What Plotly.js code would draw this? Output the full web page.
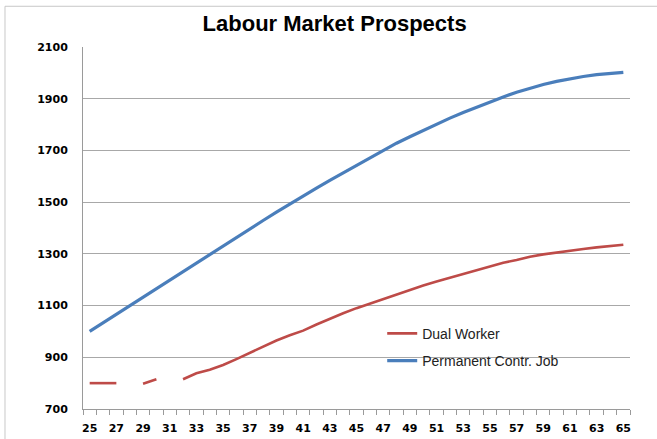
<!DOCTYPE html>
<html>
<head>
<meta charset="utf-8">
<script src="https://cdn.plot.ly/plotly-3.0.1.min.js"></script>
<style>
  html, body { margin: 0; padding: 0; background: #ffffff; }
  #chart { width: 657px; height: 439px; }
</style>
</head>
<body>
<div id="chart"></div>
<script>
// Age categories
const ages = [25, 26, 27, 28, 29, 30, 31, 32, 33, 34, 35, 36, 37, 38, 39, 40, 41, 42, 43, 44, 45,
              46, 47, 48, 49, 50, 51, 52, 53, 54, 55, 56, 57, 58, 59, 60, 61, 62, 63, 64, 65];

// Series values (null = missing point, drawn as a gap)
const dualWorker = [800, 800, 800, null, 798, 815, null, 815, 838, 852, 870, 893, 918, 942, 965, 985,
                    1003, 1027, 1050, 1070, 1090, 1108, 1127, 1145, 1162, 1178, 1193, 1208, 1224, 1238,
                    1254, 1266, 1276, 1289, 1298, 1306, 1313, 1319, 1325, 1331, 1335];

const permanentJob = [1000, 1033, 1067, 1100, 1133, 1167, 1200, 1233, 1267, 1300, 1333, 1365, 1397, 1429,
                      1461, 1493, 1524, 1554, 1584, 1613, 1643, 1672, 1702, 1728, 1753, 1778, 1802, 1825,
                      1847, 1868, 1888, 1907, 1925, 1941, 1955, 1967, 1977, 1986, 1993, 1998, 2002];

// Tick labels
const xTickLabels = [25, 27, 29, 31, 33, 35, 37, 39, 41, 43, 45, 47, 49, 51, 53, 55, 57, 59, 61, 63, 65];
const yTickLabels = [700, 900, 1100, 1300, 1500, 1700, 1900, 2100];

const seriesNames = ['Dual Worker', 'Permanent Contr. Job'];

const traces = [
  {
    x: ages, y: dualWorker, name: seriesNames[0], type: 'scatter', mode: 'lines',
    connectgaps: false, legendgroup: 'a',
    line: { color: '#be4b48', width: 2.6 }
  },
  {
    x: ages, y: permanentJob, name: seriesNames[1], type: 'scatter', mode: 'lines',
    connectgaps: false, legendgroup: 'b',
    line: { color: '#4a7ebb', width: 3.2 }
  }
];

const layout = {
  width: 657, height: 439,
  margin: { l: 83, r: 27, t: 46.7, b: 30.4, pad: 0 },
  paper_bgcolor: '#ffffff', plot_bgcolor: '#ffffff',
  font: { family: '"Liberation Sans", Arial, sans-serif', color: '#000000' },
  title: {
    text: '<b>Labour Market Prospects</b>',
    font: { family: '"Liberation Sans", Arial, sans-serif', size: 22, color: '#000000' },
    x: 0.46, xanchor: 'center', xref: 'paper',
    y: 28, yref: 'container', yanchor: 'middle'
  },
  showlegend: true,
  legend: {
    x: 0.547, xanchor: 'left', y: 0.252, yanchor: 'top',
    bgcolor: 'rgba(0,0,0,0)', borderwidth: 0,
    traceorder: 'grouped', tracegroupgap: 6,
    font: { family: '"Liberation Sans", Arial, sans-serif', size: 14, color: '#222222' }
  },
  xaxis: {
    type: 'linear', range: [24.5, 65.5],
    tickmode: 'array', tickvals: xTickLabels, ticktext: xTickLabels.map(String),
    ticks: '', ticklabelstandoff: 9,
    tickfont: { family: '"DejaVu Sans", sans-serif', size: 11, color: '#000000', weight: 'bold' },
    showgrid: false, zeroline: false,
    showline: true, linecolor: '#9a9a9a', linewidth: 1,
    minor: { tick0: 24.5, dtick: 1, ticks: 'outside', ticklen: 5, tickcolor: '#9a9a9a', tickwidth: 1, showgrid: false }
  },
  yaxis: {
    range: [700, 2100],
    tickmode: 'array', tickvals: yTickLabels, ticktext: yTickLabels.map(String),
    ticks: '', ticklabelstandoff: 12,
    tickfont: { family: '"DejaVu Sans", sans-serif', size: 11, color: '#000000', weight: 'bold' },
    showgrid: true, gridcolor: '#a8a8a8', gridwidth: 1,
    zeroline: false, showline: true, linecolor: '#9a9a9a', linewidth: 1
  },
  shapes: [
    {
      type: 'rect', xref: 'paper', yref: 'paper',
      x0: -0.1426, x1: 1.2, y0: -0.3, y1: 1.1125,
      line: { color: '#c8c8c8', width: 1 }, fillcolor: 'rgba(0,0,0,0)', layer: 'below'
    }
  ]
};

Plotly.newPlot('chart', traces, layout, { displayModeBar: false, staticPlot: true });
</script>
</body>
</html>
